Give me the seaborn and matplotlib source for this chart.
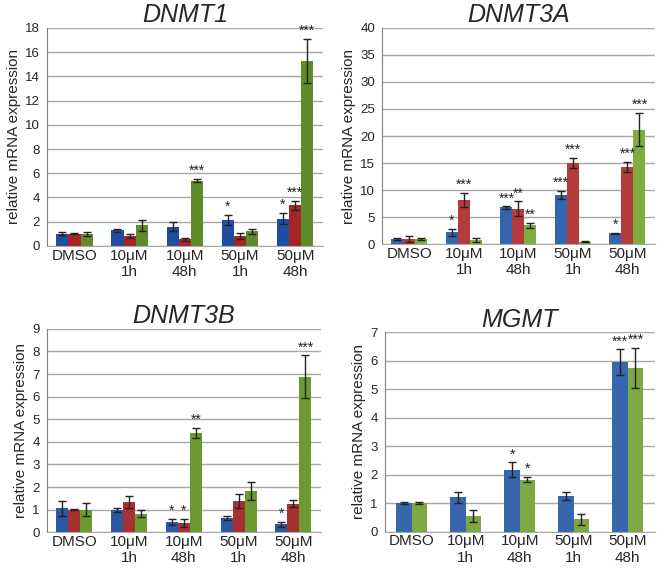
import numpy as np
import pandas as pd
import matplotlib
matplotlib.use("Agg")
import matplotlib.pyplot as plt
import seaborn as sns

# ---------data-----------------------------------------------------------------
groups = ["DMSO", "10\u03bcM\n1h", "10\u03bcM\n48h", "50\u03bcM\n1h", "50\u03bcM\n48h"]

dnmt1_vals = [[1.0, 1.3, 1.6, 2.15, 2.25],
              [1.0, 0.8, 0.55, 0.85, 3.35],
              [1.0, 1.7, 5.4, 1.2, 15.25]]
dnmt1_err = [[0.12, 0.12, 0.35, 0.4, 0.45],
             [0.03, 0.15, 0.12, 0.25, 0.35],
             [0.15, 0.45, 0.15, 0.2, 1.8]]
dnmt1_sig = [["", "", "", "*", "*"],
             ["", "", "", "", "***"],
             ["", "", "***", "", "***"]]

dnmt3a_vals = [[1.0, 2.2, 6.8, 9.1, 2.0],
               [1.0, 8.2, 6.6, 15.0, 14.3],
               [1.0, 0.8, 3.5, 0.5, 21.2]]
dnmt3a_err = [[0.2, 0.7, 0.2, 0.7, 0.12],
              [0.5, 1.3, 1.3, 1.0, 0.9],
              [0.2, 0.3, 0.5, 0.05, 3.0]]
dnmt3a_sig = [["", "*", "***", "***", "*"],
              ["", "***", "**", "***", "***"],
              ["", "", "**", "", "***"]]

dnmt3b_vals = [[1.05, 0.97, 0.45, 0.62, 0.35],
               [1.0, 1.33, 0.42, 1.38, 1.27],
               [1.0, 0.82, 4.4, 1.82, 6.88]]
dnmt3b_err = [[0.35, 0.08, 0.13, 0.1, 0.12],
              [0.02, 0.27, 0.18, 0.3, 0.15],
              [0.28, 0.15, 0.22, 0.4, 0.95]]
dnmt3b_sig = [["", "", "*", "", "*"],
              ["", "", "*", "", ""],
              ["", "", "**", "", "***"]]

mgmt_vals = [[1.0, 1.2, 2.18, 1.25, 5.95],
             [1.0, 0.55, 1.83, 0.43, 5.75]]
mgmt_err = [[0.03, 0.2, 0.25, 0.15, 0.45],
            [0.03, 0.2, 0.1, 0.2, 0.7]]
mgmt_sig = [["", "", "*", "", "***"],
            ["", "", "*", "", "***"]]

panels = [
    ("DNMT1", dnmt1_vals, dnmt1_err, dnmt1_sig, 18, 2,
     ["#1f4e9f", "#a42626", "#5e8c2a"], 0.66, [0.071, 0.567, 0.418, 0.384]),
    ("DNMT3A", dnmt3a_vals, dnmt3a_err, dnmt3a_sig, 40, 5,
     ["#3364ae", "#b33b3b", "#7fae3e"], 0.66, [0.579, 0.570, 0.413, 0.381]),
    ("DNMT3B", dnmt3b_vals, dnmt3b_err, dnmt3b_sig, 9, 1,
     ["#2a58a4", "#a83030", "#6a9a30"], 0.66, [0.071, 0.063, 0.415, 0.358]),
    ("MGMT", mgmt_vals, mgmt_err, mgmt_sig, 7, 1,
     ["#3766ac", "#7da843"], 0.57, [0.583, 0.064, 0.409, 0.351]),
]

sns.set_style("white")
plt.rcParams['font.family'] = ['Liberation Sans', 'DejaVu Sans']

fig = plt.figure(figsize=(6.6, 5.68), dpi=100)

for title, vals, errs, sigs, ymax, step, colors, width, rect in panels:
    ax = fig.add_axes(rect)
    rows = []
    for s, series in enumerate(vals):
        for g, v in enumerate(series):
            rows.append({"group": groups[g], "series": "s%d" % s, "value": v})
    df = pd.DataFrame(rows)
    sns.barplot(data=df, x="group", y="value", hue="series", palette=colors,
                width=width, errorbar=None, legend=False, saturation=1,
                edgecolor="none", ax=ax)

    # error bars and significance stars
    bar_sets = list(ax.containers)
    for s, cont in enumerate(bar_sets):
        for g, bar in enumerate(cont):
            xc = bar.get_x() + bar.get_width() / 2
            h = bar.get_height()
            e = errs[s][g]
            ax.errorbar(xc, h, yerr=e, fmt="none", ecolor="#222222",
                        elinewidth=1, capsize=3, capthick=1, zorder=5)
            if sigs[s][g]:
                ax.text(xc, h + e + ymax * 0.005, sigs[s][g], ha="center",
                        va="bottom", fontsize=10, color="#222222")

    ax.set_ylim(0, ymax)
    ax.set_yticks(np.arange(0, ymax + step / 2, step))
    ax.set_xlim(-0.5, 4.5)
    ax.yaxis.grid(True, color="#a8a8a8", linewidth=1)
    ax.set_axisbelow(True)
    for side in ["top", "right"]:
        ax.spines[side].set_visible(False)
    ax.spines["left"].set_color("#7f7f7f")
    ax.spines["bottom"].set_color("#a8a8a8")
    ax.tick_params(axis="y", length=3, color="#7f7f7f", labelsize=9.5, pad=2)
    ax.tick_params(axis="x", which="major", length=0, labelsize=11, pad=2)
    ax.set_xticks(np.arange(-0.5, 5, 1), minor=True)
    ax.tick_params(axis="x", which="minor", length=4, color="#a8a8a8")
    ax.set_xlabel("")
    ax.set_ylabel("relative mRNA expression", fontsize=11, labelpad=3)
    ax.set_title(title, fontsize=18, style="italic", pad=4)

fig.savefig("out.png", dpi=100)
